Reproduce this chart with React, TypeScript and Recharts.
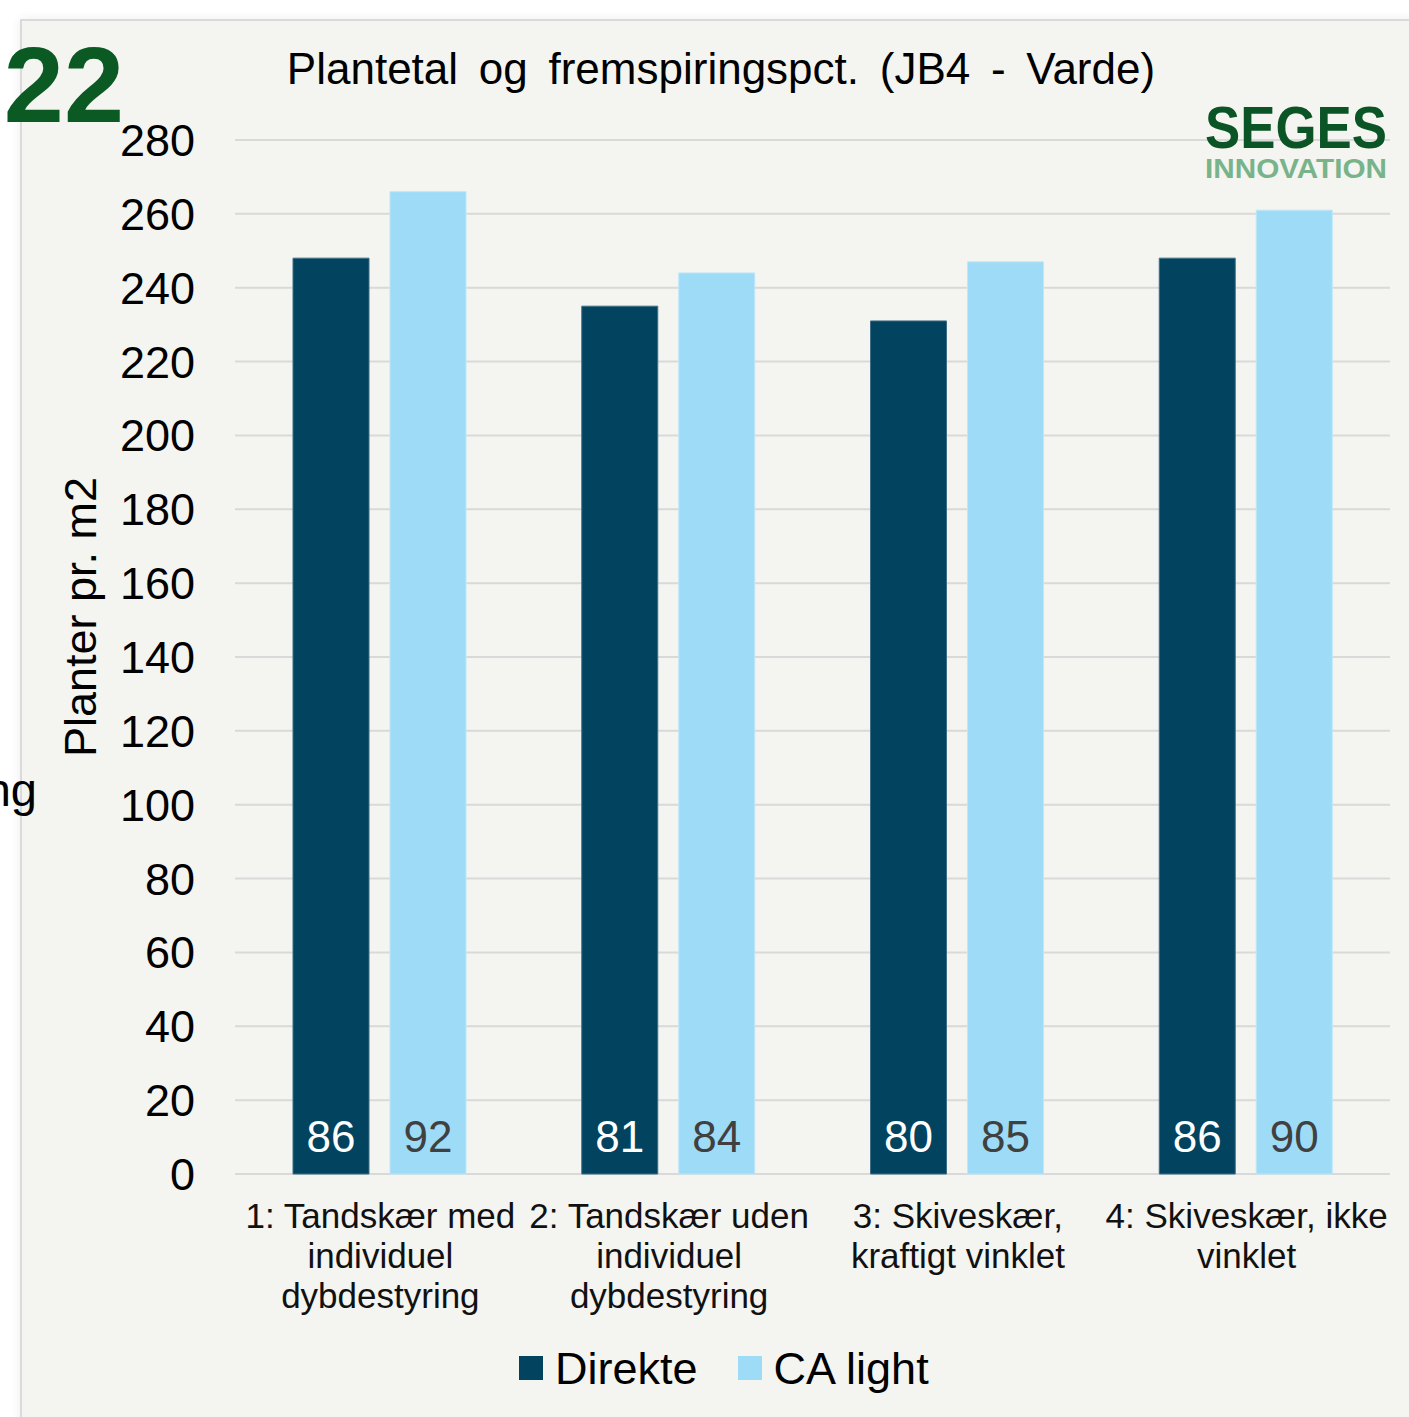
import { Bar, BarChart, CartesianGrid, LabelList, Legend, XAxis, YAxis } from "recharts";

const categories = [
  "1: Tandskær med\nindividuel\ndybdestyring",
  "2: Tandskær uden\nindividuel\ndybdestyring",
  "3: Skiveskær,\nkraftigt vinklet",
  "4: Skiveskær, ikke\nvinklet",
];
const direkte = [248, 235, 231, 248];
const caLight = [266, 244, 247, 261];
// fremspiringspct. shown at the foot of each bar
const direktePct = [86, 81, 80, 86];
const caLightPct = [92, 84, 85, 90];
const yTicks = [0, 20, 40, 60, 80, 100, 120, 140, 160, 180, 200, 220, 240, 260, 280];
const seriesNames = ["Direkte", "CA light"];

const data = categories.map((name, i) => ({
  name,
  direkte: direkte[i],
  caLight: caLight[i],
  direktePct: direktePct[i],
  caLightPct: caLightPct[i],
}));

const FONT = '"Liberation Sans", Arial, sans-serif';
const DARK = "#02435f";
const LIGHT = "#9ddbf7";
const seriesColors = [DARK, LIGHT];

function CategoryTick(props: any) {
  const { x, y, payload } = props;
  const lines = String(payload.value).split("\n");
  return (
    <g>
      {lines.map((line: string, i: number) => (
        <text key={i} x={x + 1} y={y + 54 + i * 40} textAnchor="middle" fontSize={35} fontFamily={FONT} fill="#111">
          {line}
        </text>
      ))}
    </g>
  );
}

function ValueLabel(color: string) {
  return (p: any) => (
    <text
      x={Number(p.x) + Number(p.width) / 2}
      y={Number(p.y) + Number(p.height) - 22}
      textAnchor="middle"
      fontSize={44}
      fontFamily={FONT}
      fill={color}
    >
      {p.value}
    </text>
  );
}

function LegendContent() {
  return (
    <div style={{ display: "flex", alignItems: "center", height: 60, paddingLeft: 519, fontFamily: FONT }}>
      {seriesNames.map((name, i) => (
        <div key={name} style={{ display: "flex", alignItems: "center", marginRight: 40 }}>
          <div style={{ width: 24, height: 24, background: seriesColors[i], marginRight: 12 }} />
          <span style={{ fontSize: 45, lineHeight: "45px", color: "#000" }}>{name}</span>
        </div>
      ))}
    </div>
  );
}

export default function App() {
  return (
    <div style={{ position: "absolute", left: 0, top: 0, width: 1409, height: 1417, overflow: "hidden", background: "#fff" }}>
      <div
        style={{
          position: "absolute",
          left: 20,
          top: 19,
          width: 1420,
          height: 1420,
          background: "#f4f4f0",
          borderLeft: "2px solid #dadada",
          borderTop: "2px solid #dadada",
          boxShadow: "0 0 10px rgba(0,0,0,0.07)",
        }}
      />
      <div style={{ position: "absolute", left: 0, top: 0 }}>
        <BarChart
          width={1409}
          height={1417}
          data={data}
          margin={{ top: 140, right: 19, bottom: 93, left: 135 }}
          barSize={76}
          barGap={21}
        >
          <CartesianGrid vertical={false} stroke="#d9d9d9" strokeWidth={2} />
          <XAxis
            dataKey="name"
            height={150}
            axisLine={false}
            tickLine={false}
            tickSize={0}
            tickMargin={0}
            interval={0}
            tick={<CategoryTick />}
          />
          <YAxis
            width={100}
            domain={[0, 280]}
            ticks={yTicks}
            axisLine={false}
            tickLine={false}
            tickSize={0}
            tickMargin={40}
            tick={{ fontSize: 45, fill: "#000", fontFamily: FONT }}
            label={() => (
              <text transform="translate(96,617) rotate(-90)" textAnchor="middle" fontSize={45} fontFamily={FONT} fill="#000">
                Planter pr. m2
              </text>
            )}
          />
          <Legend
            layout="horizontal"
            verticalAlign="middle"
            align="center"
            wrapperStyle={{ top: 1338, left: 0, width: 1409, height: 60 }}
            content={<LegendContent />}
          />
          <Bar dataKey="direkte" name={seriesNames[0]} fill={DARK} stroke="#3f6f86" strokeWidth={1} isAnimationActive={false}>
            <LabelList dataKey="direktePct" content={ValueLabel("#ffffff")} />
          </Bar>
          <Bar dataKey="caLight" name={seriesNames[1]} fill={LIGHT} stroke="#bfe7f9" strokeWidth={1} isAnimationActive={false}>
            <LabelList dataKey="caLightPct" content={ValueLabel("#404040")} />
          </Bar>
        </BarChart>
      </div>
      <svg width={1409} height={1417} style={{ position: "absolute", left: 0, top: 0, pointerEvents: "none" }}>
        <text x={721} y={84} textAnchor="middle" fontSize={44} fontFamily={FONT} fill="#000" wordSpacing={8.5}>
          Plantetal og fremspiringspct. (JB4 - Varde)
        </text>
        <text x={1205} y={148} fontSize={60} fontWeight="bold" fontFamily={FONT} fill="#0a5425" textLength={182} lengthAdjust="spacingAndGlyphs">
          SEGES
        </text>
        <text x={1205} y={178} fontSize={28} fontWeight="bold" fontFamily={FONT} fill="#78b38a" textLength={182} lengthAdjust="spacingAndGlyphs">
          INNOVATION
        </text>
        <text x={124} y={122} textAnchor="end" fontSize={108} fontWeight="bold" fontFamily={FONT} fill="#0b5a24">
          2022
        </text>
        <text x={37} y={806} textAnchor="end" fontSize={47} fontFamily={FONT} fill="#000">
          ng
        </text>
      </svg>
    </div>
  );
}
